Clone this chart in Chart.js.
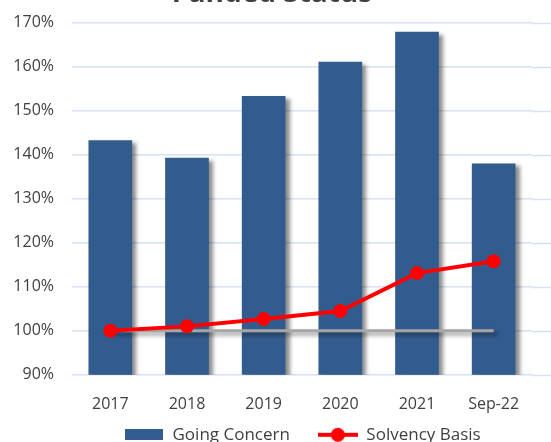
<!DOCTYPE html>
<html>
<head>
<meta charset="utf-8">
<script src="https://cdn.jsdelivr.net/npm/chart.js@4/dist/chart.umd.min.js"></script>
<style>
  html, body { margin: 0; padding: 0; background: #fff; overflow: hidden; }
  #wrap { position: absolute; left: 0; top: -20px; width: 551px; height: 509px; }
</style>
</head>
<body>
<div id="wrap"><canvas id="funded"></canvas></div>
<script>
// data
const categories = ["2017", "2018", "2019", "2020", "2021", "Sep-22"];
const goingConcern = [143.3, 139.3, 153.3, 161.1, 167.9, 138.0];
const solvencyBasis = [100.0, 101.0, 102.7, 104.5, 113.1, 115.8];
const baseline = [100, 100, 100, 100, 100, 100];
const yTicks = { min: 90, max: 170, step: 10 };

const BAR_COLOR = "#335C8E";
const RED = "#FF0000";
const GRID = "#D5E2F2";
const TEXT = "#404040";
const LEGEND_FONT = 17;
const LEGEND_PAD = 28;

// legend icons
function makeBarIcon() {
    const c = document.createElement("canvas");
    c.width = 38; c.height = 11;
    const g = c.getContext("2d");
    g.fillStyle = BAR_COLOR;
    g.fillRect(0, 0, 38, 11);
    return c;
}
function makeLineIcon() {
    const c = document.createElement("canvas");
    c.width = 40; c.height = 16;
    const g = c.getContext("2d");
    g.strokeStyle = RED; g.lineWidth = 4;
    g.beginPath(); g.moveTo(0, 8); g.lineTo(40, 8); g.stroke();
    g.fillStyle = RED;
    g.beginPath(); g.arc(20, 8, 7, 0, Math.PI * 2); g.fill();
    return c;
}
const barIcon = makeBarIcon();
const lineIcon = makeLineIcon();

// drop shadow for bars and the grey line
const shadowPlugin = {
    id: "shadow",
    beforeDatasetDraw(chart, args) {
        const ds = chart.data.datasets[args.index];
        if (!ds.shadow) return;
        const ctx = chart.ctx;
        ctx.save();
        ctx.shadowColor = "rgba(0,0,0,0.45)";
        ctx.shadowOffsetX = 4;
        ctx.shadowOffsetY = 3;
        ctx.shadowBlur = 4;
    },
    afterDatasetDraw(chart, args) {
        const ds = chart.data.datasets[args.index];
        if (!ds.shadow) return;
        chart.ctx.restore();
    }
};

// gridlines run on past the plot to the right edge of the picture
const extendGrid = {
    id: "extendGrid",
    beforeDatasetsDraw(chart) {
        const ctx = chart.ctx, y = chart.scales.y, area = chart.chartArea;
        ctx.save();
        ctx.strokeStyle = GRID;
        ctx.lineWidth = 1.5;
        y.ticks.forEach(function (t) {
            const py = Math.round(y.getPixelForValue(t.value)) + 0.5;
            ctx.beginPath();
            ctx.moveTo(area.right, py);
            ctx.lineTo(chart.width, py);
            ctx.stroke();
        });
        ctx.restore();
    }
};

// pull the legend up closer to the axis and a bit right, like the original
const legendNudge = {
    id: "legendNudge",
    afterLayout(chart) {
        const lg = chart.legend, area = chart.chartArea;
        if (!lg || !lg.lineWidths) return;
        const dy = area.bottom + 60 - LEGEND_PAD - LEGEND_FONT / 2 - lg.top;
        const startX = (lg.left + LEGEND_PAD + lg.right - lg.lineWidths[0]) / 2;
        const dx = area.left + 52 - startX;
        lg.top += dy; lg.bottom += dy;
        lg.left += dx; lg.right += dx;
    }
};

const chart = new Chart(document.getElementById("funded"), {
    type: "bar",
    data: {
        labels: categories,
        datasets: [
            {
                type: "bar",
                label: "Going Concern",
                data: goingConcern,
                backgroundColor: BAR_COLOR,
                barPercentage: 0.57,
                categoryPercentage: 1,
                shadow: true,
                order: 3
            },
            {
                type: "line",
                label: "Solvency Basis",
                data: solvencyBasis,
                borderColor: RED,
                backgroundColor: RED,
                borderWidth: 4,
                pointRadius: 7,
                pointBorderWidth: 0,
                pointBackgroundColor: RED,
                tension: 0,
                order: 1
            },
            {
                type: "line",
                label: "base",
                data: baseline,
                borderColor: "#A6A6A6",
                borderWidth: 3,
                pointRadius: 0,
                shadow: true,
                order: 2
            }
        ]
    },
    options: {
        responsive: true,
        maintainAspectRatio: false,
        animation: false,
        devicePixelRatio: 1,
        layout: { padding: { left: 12, right: 19, top: 0, bottom: 0 } },
        scales: {
            x: {
                grid: { display: false, drawTicks: false },
                border: { display: false },
                ticks: { color: TEXT, padding: 20, font: { family: "Open Sans", size: 16 } }
            },
            y: {
                min: yTicks.min,
                max: yTicks.max,
                grid: { color: GRID, lineWidth: 1.5, drawTicks: false },
                border: { display: false },
                ticks: {
                    stepSize: yTicks.step,
                    color: TEXT,
                    padding: 18,
                    font: { family: "Open Sans", size: 16 },
                    callback: function (v) { return v + "%"; }
                },
                afterFit: function (scale) { scale.width = 60; }
            }
        },
        plugins: {
            title: {
                display: true,
                text: "Funded Status",
                color: TEXT,
                font: { family: "Open Sans", size: 28, weight: "bold", lineHeight: 1.0 },
                padding: { top: 0, bottom: 14.6 }
            },
            legend: {
                position: "bottom",
                labels: {
                    color: TEXT,
                    font: { family: "Open Sans", size: LEGEND_FONT },
                    usePointStyle: true,
                    pointStyleWidth: 40,
                    padding: LEGEND_PAD,
                    sort: function (a, b) { return a.datasetIndex - b.datasetIndex; },
                    generateLabels: function (chart) {
                        const items = Chart.defaults.plugins.legend.labels.generateLabels(chart);
                        return items.filter(function (it) { return it.datasetIndex !== 2; }).map(function (it) {
                            it.pointStyle = it.datasetIndex === 0 ? barIcon : lineIcon;
                            return it;
                        });
                    }
                }
            },
            tooltip: { enabled: false }
        }
    },
    plugins: [shadowPlugin, extendGrid, legendNudge]
});
</script>
</body>
</html>
